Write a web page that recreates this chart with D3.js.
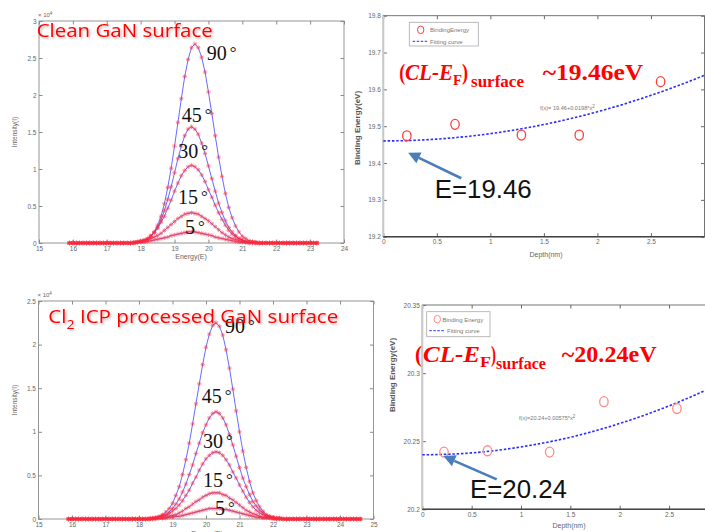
<!DOCTYPE html>
<html>
<head>
<meta charset="utf-8">
<script src="https://cdn.jsdelivr.net/npm/d3@7"></script>
<style>
  body { margin: 0; background: #fff; }
  svg { display: block; }
</style>
</head>
<body>
<svg id="chart" width="705" height="532"></svg>
<script>
// ---- data ----

// energy sampling of the spectra (eV), 0.1 eV step
const topEnergy = d3.range(159, 233).map(d => d / 10)     // 15.9 .. 23.2
const bottomEnergy = d3.range(159, 247).map(d => d / 10)  // 15.9 .. 24.6

const angles = ["90", "45", "30", "15", "5"]

// clean GaN surface, intensity x 10^4
const top90 = [
  0, 0, 0, 0, 0, 0, 0, 0, 0, 0, 0, 0, 0, 0, 0, 0, 0, 0, 0,
  0, .01, .02, .03, .05, .09, .15, .24, .36, .53, .75, 1.01, 1.31, 1.63, 1.95, 2.25, 2.48, 2.64, 2.69,
  2.64, 2.51, 2.31, 2.04, 1.75, 1.45, 1.16, .90, .67, .48, .34, .23, .15, .09, .06, .03, .02, .01, 0,
  0, 0, 0, 0, 0, 0, 0, 0, 0, 0, 0, 0, 0, 0, 0, 0, 0
]
const top45 = [
  0, 0, 0, 0, 0, 0, 0, 0, 0, 0, 0, 0, 0, 0, 0, 0, 0, 0, 0,
  0, .01, .02, .03, .05, .09, .14, .21, .31, .44, .59, .76, .95, 1.14, 1.31, 1.45, 1.54, 1.57, 1.54,
  1.47, 1.35, 1.21, 1.04, .87, .70, .54, .41, .30, .21, .15, .10, .06, .04, .02, .01, .01, 0, 0,
  0, 0, 0, 0, 0, 0, 0, 0, 0, 0, 0, 0, 0, 0, 0, 0, 0
]
const top30 = [
  0, 0, 0, 0, 0, 0, 0, 0, 0, 0, 0, 0, 0, 0, 0, 0, 0, 0, 0,
  .01, .02, .03, .04, .06, .10, .14, .20, .28, .36, .47, .58, .70, .81, .91, .98, 1.03, 1.05, 1.03,
  .99, .92, .83, .72, .62, .51, .41, .32, .24, .17, .12, .09, .06, .04, .02, .01, .01, .01, 0,
  0, 0, 0, 0, 0, 0, 0, 0, 0, 0, 0, 0, 0, 0, 0, 0, 0
]
const top15 = [
  0, 0, 0, 0, 0, 0, 0, 0, 0, 0, 0, 0, 0, 0, 0, 0, 0, 0, 0,
  .01, .01, .02, .03, .04, .06, .08, .10, .13, .17, .21, .25, .29, .33, .36, .39, .40, .41, .40,
  .39, .36, .33, .30, .26, .22, .18, .14, .11, .08, .06, .05, .03, .02, .01, .01, .01, 0, 0,
  0, 0, 0, 0, 0, 0, 0, 0, 0, 0, 0, 0, 0, 0, 0, 0, 0
]
const top5 = [
  0, 0, 0, 0, 0, 0, 0, 0, 0, 0, 0, 0, 0, 0, 0, 0, 0, 0, 0,
  0, .01, .01, .01, .02, .03, .04, .05, .06, .07, .08, .10, .11, .12, .13, .14, .15, .15, .15,
  .14, .13, .12, .11, .10, .08, .07, .06, .05, .04, .03, .02, .01, .01, .01, 0, 0, 0, 0,
  0, 0, 0, 0, 0, 0, 0, 0, 0, 0, 0, 0, 0, 0, 0, 0, 0
]

// Cl2 ICP processed surface, intensity x 10^4
const bot90 = [
  0, 0, 0, 0, 0, 0, 0, 0, 0, 0, 0, 0, 0, 0, 0, 0, 0, 0, 0, 0, 0, 0, 0, 0,
  .01, .01, .02, .03, .05, .08, .12, .18, .27, .37, .51, .68, .87, 1.09, 1.32, 1.55, 1.77, 1.97, 2.12, 2.22,
  2.25, 2.21, 2.11, 1.94, 1.73, 1.49, 1.24, 1.00, .78, .59, .43, .30, .21, .14, .09, .05, .03, .02, .01, .01, 0,
  0, 0, 0, 0, 0, 0, 0, 0, 0, 0, 0, 0, 0, 0, 0, 0, 0, 0, 0, 0, 0, 0, 0
]
const bot45 = [
  0, 0, 0, 0, 0, 0, 0, 0, 0, 0, 0, 0, 0, 0, 0, 0, 0, 0, 0, 0, 0, 0, 0, 0,
  0, .01, .01, .02, .04, .05, .08, .12, .17, .23, .31, .40, .51, .62, .75, .87, .99, 1.08, 1.16, 1.21,
  1.23, 1.21, 1.16, 1.08, .97, .85, .72, .59, .47, .37, .28, .20, .15, .10, .07, .04, .03, .02, .01, .01, 0,
  0, 0, 0, 0, 0, 0, 0, 0, 0, 0, 0, 0, 0, 0, 0, 0, 0, 0, 0, 0, 0, 0, 0
]
const bot30 = [
  0, 0, 0, 0, 0, 0, 0, 0, 0, 0, 0, 0, 0, 0, 0, 0, 0, 0, 0, 0, 0, 0, 0, 0,
  0, .01, .01, .02, .03, .04, .06, .09, .12, .16, .21, .27, .33, .41, .48, .56, .63, .69, .73, .76,
  .77, .76, .73, .68, .62, .54, .47, .39, .32, .25, .19, .14, .10, .07, .05, .03, .02, .01, .01, .01, 0,
  0, 0, 0, 0, 0, 0, 0, 0, 0, 0, 0, 0, 0, 0, 0, 0, 0, 0, 0, 0, 0, 0, 0
]
const bot15 = [
  0, 0, 0, 0, 0, 0, 0, 0, 0, 0, 0, 0, 0, 0, 0, 0, 0, 0, 0, 0, 0, 0, 0, 0,
  0, 0, .01, .01, .01, .02, .03, .04, .05, .07, .09, .12, .14, .17, .20, .22, .25, .27, .29, .30,
  .30, .30, .28, .27, .24, .22, .19, .16, .13, .10, .08, .06, .05, .03, .02, .02, .01, .01, 0, 0, 0,
  0, 0, 0, 0, 0, 0, 0, 0, 0, 0, 0, 0, 0, 0, 0, 0, 0, 0, 0, 0, 0, 0, 0
]
const bot5 = [
  0, 0, 0, 0, 0, 0, 0, 0, 0, 0, 0, 0, 0, 0, 0, 0, 0, 0, 0, 0, 0, 0, 0, 0,
  0, 0, 0, .01, .01, .01, .02, .02, .03, .03, .04, .05, .06, .07, .08, .09, .10, .11, .12, .12,
  .12, .12, .11, .11, .10, .09, .08, .07, .06, .05, .04, .03, .02, .02, .01, .01, .01, 0, 0, 0, 0,
  0, 0, 0, 0, 0, 0, 0, 0, 0, 0, 0, 0, 0, 0, 0, 0, 0, 0, 0, 0, 0, 0, 0
]

// angle labels: energy / intensity where each label sits
const topLabelE = [19.95, 19.21, 19.11, 19.10, 19.31]
const topLabelI = [2.47, 1.63, 1.145, 0.527, 0.12]
const botLabelE = [20.57, 19.87, 19.91, 19.91, 20.27]
const botLabelI = [2.13, 1.327, 0.81, 0.37, 0.046]

// binding energy vs depth
const topDepth = [0.22, 0.67, 1.29, 1.83, 2.59]
const topBE = [19.474, 19.505, 19.476, 19.476, 19.621]
const botDepth = [0.22, 0.66, 1.29, 1.84, 2.58]
const botBE = [20.242, 20.243, 20.242, 20.279, 20.274]

// fitted curves, read at every 0.25 nm
const fitDepth = [0, 0.25, 0.5, 0.75, 1, 1.25, 1.5, 1.75, 2, 2.25, 2.5, 2.75, 3]
const topFit = [19.46, 19.4612, 19.465, 19.4711, 19.4798, 19.4909, 19.5046, 19.5206, 19.5392, 19.5602, 19.5838, 19.6097, 19.6382]
const botFit = [20.24, 20.2404, 20.2414, 20.2432, 20.2458, 20.249, 20.2529, 20.2576, 20.263, 20.2691, 20.2759, 20.2835, 20.2918]

// ---- drawing ----
const svg = d3.select("#chart")
const tickFont = "Liberation Sans, Arial, sans-serif"

svg.append("defs").append("filter")
    .attr("id", "shadow")
    .attr("x", "-5%").attr("y", "-20%").attr("width", "115%").attr("height", "160%")
  .append("feDropShadow")
    .attr("dx", 1.5).attr("dy", 1.5).attr("stdDeviation", 1.2)
    .attr("flood-color", "#000").attr("flood-opacity", 0.28)

function styleAxis(sel, color) {
  sel.select(".domain").remove()
  sel.selectAll("line").attr("stroke", color)
  sel.selectAll("text")
    .attr("font-family", tickFont)
    .attr("font-size", 6.5)
    .attr("fill", "#666")
}

// box with inward ticks on all four sides, MATLAB style
function drawFrame(g, x, y, xTicks, yTicks, frameColor, xLabelMax) {
  let [x0, x1] = x.range()
  let [y0, y1] = y.range()
  let fmt = d3.format("~g")
  let xfmt = d => (d > xLabelMax ? "" : fmt(d))

  g.append("g").attr("transform", `translate(0,${y0})`)
    .call(d3.axisBottom(x).tickValues(xTicks).tickSize(-3.5).tickSizeOuter(0).tickPadding(3).tickFormat(xfmt))
    .call(styleAxis, frameColor)
  g.append("g").attr("transform", `translate(0,${y1})`)
    .call(d3.axisTop(x).tickValues(xTicks).tickSize(-3.5).tickSizeOuter(0).tickFormat(""))
    .call(styleAxis, frameColor)
  g.append("g").attr("transform", `translate(${x0},0)`)
    .call(d3.axisLeft(y).tickValues(yTicks).tickSize(-3.5).tickSizeOuter(0).tickPadding(2.5).tickFormat(fmt))
    .call(styleAxis, frameColor)
  g.append("g").attr("transform", `translate(${x1},0)`)
    .call(d3.axisRight(y).tickValues(yTicks).tickSize(-3.5).tickSizeOuter(0).tickFormat(""))
    .call(styleAxis, frameColor)

  g.append("rect")
    .attr("x", x0).attr("y", y1)
    .attr("width", x1 - x0).attr("height", y0 - y1)
    .attr("fill", "none")
    .attr("stroke", frameColor)
    .attr("stroke-width", 0.9)
}

const asterisk = "M-2.2,0H2.2M0,-2.2V2.2M-1.6,-1.6L1.6,1.6M-1.6,1.6L1.6,-1.6"

function drawSpectrum(cfg) {
  let g = svg.append("g")
  let x = d3.scaleLinear().domain(cfg.xDomain).range(cfg.xRange)
  let y = d3.scaleLinear().domain([0, cfg.yMax]).range(cfg.yRange)

  drawFrame(g, x, y, cfg.xTicks, d3.range(0, cfg.yMax + 0.01, 0.5), "#8a8a8a", Infinity)

  let line = d3.line()
    .x((d, i) => x(cfg.energy[i]))
    .y(d => y(d))

  cfg.series.forEach(s => {
    g.append("path")
      .attr("d", line(s))
      .attr("fill", "none")
      .attr("stroke", "#3b3bff")
      .attr("stroke-width", 0.9)
      .attr("opacity", 0.85)
  })
  cfg.series.forEach(s => {
    g.append("g").selectAll("path")
      .data(s)
      .join("path")
      .attr("transform", (d, i) => `translate(${x(cfg.energy[i])},${y(d)})`)
      .attr("d", asterisk)
      .attr("stroke", "#ff2a3a")
      .attr("stroke-width", 0.8)
      .attr("opacity", 0.65)
  })

  // angle labels
  angles.forEach((a, i) => {
    let t = g.append("text")
      .attr("x", x(cfg.labelE[i]))
      .attr("y", y(cfg.labelI[i]))
      .attr("font-family", "Liberation Serif, Times New Roman, serif")
      .attr("font-size", 20)
      .attr("fill", "#111")
      .text(a)
    t.append("tspan")
      .attr("dx", 3).attr("dy", -2)
      .attr("font-size", 17)
      .text("°")
  })

  // x10^4
  let m = g.append("text")
    .attr("x", cfg.xRange[0] - 1)
    .attr("y", cfg.yRange[1] - 4)
    .attr("font-family", tickFont)
    .attr("font-size", 6)
    .attr("fill", "#666")
    .text("× 10")
  m.append("tspan").attr("dy", -2.5).attr("font-size", 4.5).text("4")

  g.append("text")
    .attr("x", cfg.xLabel[0]).attr("y", cfg.xLabel[1])
    .attr("text-anchor", "middle")
    .attr("font-family", tickFont)
    .attr("font-size", 7)
    .attr("fill", "#666")
    .text("Energy(E)")

  g.append("text")
    .attr("transform", `translate(${cfg.yLabel[0]},${cfg.yLabel[1]}) rotate(-90)`)
    .attr("text-anchor", "middle")
    .attr("font-family", tickFont)
    .attr("font-size", 6.5)
    .attr("fill", "#666")
    .text("Intensity(I)")
}

function drawDepth(cfg) {
  let g = svg.append("g")
  let x = d3.scaleLinear().domain([0, 3]).range(cfg.xRange)
  let y = d3.scaleLinear().domain(cfg.yDomain).range(cfg.yRange)

  drawFrame(g, x, y, [0, 0.5, 1, 1.5, 2, 2.5, 3], cfg.yTicks, "#666", 2.5)
  // heavier left / bottom spines like the figure
  g.append("line")
    .attr("x1", cfg.xRange[0]).attr("x2", cfg.xRange[0])
    .attr("y1", cfg.yRange[0]).attr("y2", cfg.yRange[1])
    .attr("stroke", "#c8c8c8").attr("stroke-width", 2)
  g.append("line")
    .attr("x1", cfg.xRange[0]).attr("x2", cfg.xRange[1])
    .attr("y1", cfg.yRange[0]).attr("y2", cfg.yRange[0])
    .attr("stroke", "#444").attr("stroke-width", 1.4)

  // fitting curve
  g.append("path")
    .attr("d", d3.line().curve(d3.curveMonotoneX)
      .x((d, i) => x(fitDepth[i])).y(d => y(d))(cfg.fit))
    .attr("fill", "none")
    .attr("stroke", "#2b2bff")
    .attr("stroke-width", 1.6)
    .attr("stroke-dasharray", "2.5,1.8")

  // measured points
  g.append("g").selectAll("ellipse")
    .data(cfg.be)
    .join("ellipse")
    .attr("cx", (d, i) => x(cfg.depth[i]))
    .attr("cy", d => y(d))
    .attr("rx", 4.2).attr("ry", 5)
    .attr("fill", "none")
    .attr("stroke", cfg.pointColor)
    .attr("stroke-width", 1.3)

  // legend
  let lg = g.append("g")
  let b = cfg.legend
  lg.append("rect")
    .attr("x", b.x).attr("y", b.y).attr("width", b.w).attr("height", b.h)
    .attr("fill", "#fff").attr("stroke", "#aaa").attr("stroke-width", 0.8)
  lg.append("ellipse")
    .attr("cx", b.mark).attr("cy", b.y + 7.5)
    .attr("rx", 3.2).attr("ry", 3.8)
    .attr("fill", "none").attr("stroke", cfg.pointColor).attr("stroke-width", 1)
  lg.append("line")
    .attr("x1", b.mark - 8).attr("x2", b.mark + 7)
    .attr("y1", b.y + 19).attr("y2", b.y + 19)
    .attr("stroke", "#2b2bff").attr("stroke-width", 1).attr("stroke-dasharray", "2.5,1.5")
  lg.selectAll("text")
    .data(cfg.legendText)
    .join("text")
    .attr("x", (d, i) => b.text[i])
    .attr("y", (d, i) => b.y + 10 + i * 11.5)
    .attr("font-family", tickFont)
    .attr("font-size", 6)
    .attr("fill", "#777")
    .text(d => d)

  // fit equation
  let eq = g.append("text")
    .attr("x", cfg.eqPos[0]).attr("y", cfg.eqPos[1])
    .attr("font-family", tickFont)
    .attr("font-size", 5.6)
    .attr("fill", "#777")
    .text(cfg.eqText)
  eq.append("tspan").attr("dy", -2.5).attr("font-size", 4.5).text("2")

  // (CL-E_F)_surface ~ value
  let big = cfg.big
  let serif = "Liberation Serif, Times New Roman, serif"
  function piece(txt, px, py, size, len, italic) {
    g.append("text")
      .attr("x", px).attr("y", py)
      .attr("font-family", serif)
      .attr("font-weight", "bold")
      .attr("font-style", italic ? "italic" : "normal")
      .attr("font-size", size)
      .attr("fill", "#ff0000")
      .attr("textLength", len)
      .attr("lengthAdjust", "spacingAndGlyphs")
      .text(txt)
  }
  piece("(", big.x[0], big.base, 23, big.w[0], false)
  piece("CL-E", big.x[1], big.base, 23, big.w[1], true)
  piece("F", big.x[2], big.base + 5, 15, big.w[2], false)
  piece(")", big.x[3], big.base, 23, big.w[3], false)
  piece("surface", big.x[4], big.base + 7, 16, big.w[4], false)
  piece(cfg.bigValue, big.x[5], big.base, 23, big.w[5], false)

  // arrow to the intercept
  let a = cfg.arrow
  let tip = [x(a.tip[0]), y(a.tip[1])]
  let tail = [x(a.tail[0]), y(a.tail[1])]
  let ang = Math.atan2(tip[1] - tail[1], tip[0] - tail[0])
  let head = 12, half = 6
  let base = [tip[0] - head * Math.cos(ang), tip[1] - head * Math.sin(ang)]
  g.append("line")
    .attr("x1", tail[0]).attr("y1", tail[1])
    .attr("x2", base[0]).attr("y2", base[1])
    .attr("stroke", "#4a7ebb").attr("stroke-width", 2.6)
  g.append("path")
    .attr("d", `M${tip[0]},${tip[1]}L${base[0] - half * Math.sin(ang)},${base[1] + half * Math.cos(ang)}L${base[0] + half * Math.sin(ang)},${base[1] - half * Math.cos(ang)}Z`)
    .attr("fill", "#4a7ebb")

  g.append("text")
    .attr("x", x(a.label[0])).attr("y", y(a.label[1]))
    .attr("font-family", tickFont)
    .attr("font-size", 25)
    .attr("fill", "#111")
    .attr("textLength", 97)
    .attr("lengthAdjust", "spacingAndGlyphs")
    .text(cfg.eLabel)

  g.append("text")
    .attr("x", cfg.xLabel[0]).attr("y", cfg.xLabel[1])
    .attr("text-anchor", "middle")
    .attr("font-family", tickFont)
    .attr("font-size", 7)
    .attr("fill", "#666")
    .text("Depth(nm)")

  g.append("text")
    .attr("transform", `translate(${cfg.yLabel[0]},${cfg.yLabel[1]}) rotate(-90)`)
    .attr("text-anchor", "middle")
    .attr("font-family", tickFont)
    .attr("font-weight", "bold")
    .attr("font-size", 8)
    .attr("fill", "#555")
    .text("Binding Energy(eV)")
}

drawSpectrum({
  xDomain: [15, 24], xRange: [39, 344],
  yMax: 3, yRange: [243, 21],
  xTicks: d3.range(15, 25),
  energy: topEnergy,
  series: [top90, top45, top30, top15, top5],
  labelE: topLabelE, labelI: topLabelI,
  xLabel: [191, 259], yLabel: [17, 132]
})

drawSpectrum({
  xDomain: [15, 25], xRange: [38.5, 373.5],
  yMax: 2.5, yRange: [519, 301],
  xTicks: d3.range(15, 26),
  energy: bottomEnergy,
  series: [bot90, bot45, bot30, bot15, bot5],
  labelE: botLabelE, labelI: botLabelI,
  xLabel: [207, 536], yLabel: [17, 400]
})

drawDepth({
  xRange: [383.3, 704.5],
  yDomain: [19.2, 19.8], yRange: [236.7, 15.7],
  yTicks: [19.2, 19.3, 19.4, 19.5, 19.6, 19.7, 19.8],
  depth: topDepth, be: topBE, fit: topFit,
  pointColor: "#ff3b3b",
  legend: { x: 409.3, y: 22.3, w: 69, h: 23.7, mark: 420.7, text: [430, 430] },
  legendText: ["BindingEnergy", "Fitting curve"],
  eqPos: [540, 110], eqText: "f(x)= 19.46+0.0198*x",
  big: { base: 80, x: [399.3, 405, 453, 462, 471, 542.7], w: [6, 48, 9, 6, 53, 100.6] },
  bigValue: "~19.46eV",
  arrow: { tip: [0.232, 19.428], tail: [0.728, 19.3587], label: [0.48, 19.305] },
  eLabel: "E=19.46",
  xLabel: [546, 257], yLabel: [360, 128]
})

drawDepth({
  xRange: [422.3, 718.4],
  yDomain: [20.2, 20.35], yRange: [509.3, 305],
  yTicks: [20.2, 20.25, 20.3, 20.35],
  depth: botDepth, be: botBE, fit: botFit,
  pointColor: "#ff8a8a",
  legend: { x: 426.7, y: 311.7, w: 63.3, h: 25, mark: 437.3, text: [442.5, 447] },
  legendText: ["Binding Energy", "Fitting curve"],
  eqPos: [519, 420], eqText: "f(x)=20.24+0.00575*x",
  big: { base: 361.7, x: [415, 423, 480, 491, 496, 561.7], w: [7, 57, 11, 5, 50, 95] },
  bigValue: "~20.24eV",
  arrow: { tip: [0.213, 20.2391], tail: [0.754, 20.222], label: [0.483, 20.2081] },
  eLabel: "E=20.24",
  xLabel: [569, 528], yLabel: [395, 375]
})

// red panel titles
svg.append("text")
  .attr("x", 36.7).attr("y", 36.7)
  .attr("font-family", "Open Sans, Liberation Sans, sans-serif")
  .attr("font-size", 19)
  .attr("fill", "#ff0000")
  .attr("textLength", 176)
  .attr("lengthAdjust", "spacingAndGlyphs")
  .attr("filter", "url(#shadow)")
  .text("Clean GaN surface")

let t2 = svg.append("text")
  .attr("x", 48.3).attr("y", 322.7)
  .attr("font-family", "Open Sans, Liberation Sans, sans-serif")
  .attr("font-size", 19)
  .attr("fill", "#ff0000")
  .attr("textLength", 290)
  .attr("lengthAdjust", "spacingAndGlyphs")
  .attr("filter", "url(#shadow)")
t2.append("tspan").text("Cl")
t2.append("tspan").attr("font-size", 13).attr("dy", 6).text("2")
t2.append("tspan").attr("dy", -6).text(" ICP processed GaN surface")
</script>
</body>
</html>
